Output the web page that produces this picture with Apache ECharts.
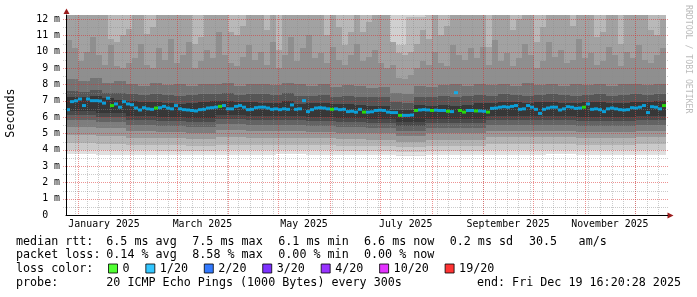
<!DOCTYPE html>
<html><head><meta charset="utf-8">
<script src="https://cdn.jsdelivr.net/npm/echarts@6/dist/echarts.min.js"></script>
<style>html,body{margin:0;padding:0;background:#fff;}#c{width:697px;height:297px;}</style>
</head><body><div id="c"></div>
<script>
// ---------------- data ----------------
// x axis: days since graph start (Dec 24 2024 16:20:28), span 360 days
const spanDays = 360;
const yMaxMs = 12.245;
const monthStartDays = [7.32, 38.32, 66.32, 97.32, 127.32, 158.32, 188.32, 219.32, 250.32, 280.32, 311.32, 341.32];
const monthLabelDays = [22.82, 81.82, 142.82, 203.82, 265.32, 326.32];
const monthLabels = ['January 2025', 'March 2025', 'May 2025', 'July 2025', 'September 2025', 'November 2025'];
const firstMondayDay = 5.32;

// median rtt (ms), 150 bins of 2.4 days
const medianRtt = [
 6.45,6.94,6.99,7.1,6.7,7.1,7.0,7.0,6.98,6.85,
 7.15,6.7,6.8,6.6,6.94,6.8,6.75,6.55,6.43,6.57,
 6.5,6.47,6.55,6.57,6.65,6.55,6.5,6.7,6.5,6.45,
 6.43,6.4,6.37,6.45,6.47,6.55,6.57,6.6,6.65,6.7,
 6.5,6.5,6.65,6.7,6.6,6.45,6.47,6.57,6.6,6.6,
 6.55,6.47,6.5,6.45,6.5,6.47,6.74,6.47,6.5,7.0,
 6.33,6.45,6.55,6.57,6.55,6.5,6.47,6.5,6.45,6.47,
 6.33,6.35,6.3,6.47,6.3,6.3,6.32,6.4,6.42,6.4,
 6.3,6.27,6.27,6.1,6.1,6.1,6.12,6.4,6.43,6.45,
 6.43,6.4,6.42,6.4,6.4,6.35,6.33,7.49,6.4,6.3,
 6.4,6.4,6.37,6.37,6.35,6.3,6.53,6.55,6.6,6.63,
 6.6,6.65,6.7,6.47,6.5,6.7,6.6,6.47,6.22,6.47,
 6.55,6.6,6.6,6.43,6.5,6.63,6.6,6.53,6.55,6.6,
 6.8,6.47,6.5,6.45,6.33,6.5,6.55,6.5,6.45,6.43,
 6.45,6.57,6.55,6.6,6.7,6.27,6.63,6.6,6.5,6.7];
// loss level index per median bin (0 = "0", 1 = "1/20")
const medianLoss = [
 1,1,1,1,1,1,1,1,1,1, 1,0,1,1,1,1,1,1,1,1, 1,1,0,1,1,1,1,1,1,1, 1,1,1,1,1,1,1,1,0,1,
 1,1,1,1,1,1,1,1,1,1, 1,1,1,1,1,1,1,1,1,1, 1,1,1,1,1,1,0,1,1,1, 1,1,1,1,0,1,1,1,1,1,
 1,1,1,0,1,1,1,0,1,1, 1,0,1,1,1,0,1,1,0,0, 1,1,0,1,1,0,1,1,1,1, 1,1,1,1,1,1,1,1,1,1,
 1,1,1,1,1,1,1,1,1,0, 1,1,1,1,1,1,1,1,1,1, 1,1,1,1,1,1,1,1,1,0];
const lossNames = ['0', '1/20', '2/20', '3/20', '4/20', '10/20', '19/20'];
const lossColors = ['#26ff00', '#00b8ff', '#0059ff', '#5e00ff', '#7e00ff', '#dd00ff', '#ff0000'];

// smoke, lower side: 20 bins of 18 days (ms)
const lowEdge0 = [3.72,3.7,3.7,3.68,3.68,3.7,3.7,3.72,3.7,3.68,3.66,3.64,3.68,3.68,3.7,3.7,3.72,3.7,3.7,3.7];
const lowEdge1 = [3.95,3.95,3.95,3.9,3.9,3.95,3.95,3.95,3.95,3.9,3.9,3.85,3.9,3.9,3.95,4.0,4.0,3.95,3.95,4.0];
const lowEdge2 = [4.4,4.35,4.3,4.3,4.25,4.3,4.3,4.3,4.3,4.25,4.2,4.15,4.2,4.2,4.35,4.35,4.35,4.3,4.3,4.35];
const lowEdge3 = [4.9,4.85,4.7,4.7,4.65,4.75,4.7,4.7,4.7,4.65,4.6,4.5,4.6,4.6,4.75,4.75,4.75,4.7,4.7,4.75];
const lowEdge4 = [5.4,5.3,5.15,5.1,5.05,5.2,5.15,5.15,5.1,5.05,5.0,4.85,5.0,5.0,5.15,5.15,5.15,5.1,5.1,5.15];
const lowEdge5 = [5.8,5.7,5.5,5.45,5.4,5.55,5.5,5.5,5.45,5.4,5.35,5.15,5.35,5.35,5.5,5.5,5.5,5.45,5.45,5.5];
const lowEdge6 = [6.1,6.0,5.8,5.75,5.7,5.85,5.8,5.8,5.75,5.7,5.65,5.45,5.65,5.65,5.8,5.8,5.8,5.75,5.75,5.8];
const lowEdge7 = [6.35,6.25,6.05,6.0,5.95,6.1,6.05,6.05,6.0,5.95,5.9,5.7,5.9,5.9,6.05,6.05,6.05,6.0,6.0,6.05];

// smoke, upper side
const topMax = [13.6,14.2,13.1,13.8,14.5,13.3,13.9,14.1,13.4,13.7,14.0,13.2,13.8,13.5,14.3,13.6,12.9,13.1,13.8,14.2,13.5,13.9,13.3,14.0,13.6,13.8,14.1,13.4,13.7,13.9]; // 30 bins
const topLight = [12.9,13.2,12.7,13.0,12.8,13.3,12.9,13.1,12.8,13.0,13.2,12.9,12.7,13.1,13.0,12.8,10.4,12.1,13.0,12.9,13.2,12.8,13.0,13.1,12.9,12.7,13.0,13.2,12.8,13.0]; // 30 bins
const topGrey = [
 12.8,13.1,12.9,13.2,12.7,13.0,12.9,10.8,10.6,11.0,
 11.4,12.9,13.1,11.1,11.5,12.8,13.0,12.9,13.2,12.7,
 13.0,10.5,10.9,12.8,13.1,12.9,13.0,11.2,11.0,11.6,
 12.9,13.2,12.8,11.3,12.9,10.1,13.0,12.8,13.1,12.9,
 13.0,12.7,13.2,11.0,12.9,11.5,10.4,11.2,13.0,11.2,
 11.8,12.9,13.1,12.8,10.6,9.9,9.8,10.0,10.5,11.3,
 10.8,12.9,11.0,11.6,13.0,12.8,13.1,12.9,13.0,12.7,
 10.3,12.9,13.1,12.8,11.3,12.0,13.0,12.9,10.6,11.5,
 13.1,12.8,13.0,12.9,11.6,13.2,12.8,13.0,10.9,11.2,
 12.9,13.1,10.5,12.8,13.0,12.9,13.1,11.3,11.0,12.0]; // 100 bins
const topMid = [
 10.7,10.2,9.4,10.0,10.9,9.8,9.2,10.4,9.1,9.0,
 9.3,9.6,10.5,9.2,9.0,10.2,9.5,10.8,9.3,9.8,
 10.6,9.0,9.4,10.1,9.6,11.2,9.8,9.3,9.1,9.7,
 10.4,9.5,10.0,9.2,10.6,9.0,9.8,10.9,9.4,10.2,
 11.0,9.6,9.9,9.3,10.3,9.5,9.2,9.8,10.5,9.4,
 9.7,10.1,9.3,9.0,9.2,8.4,8.3,8.6,9.0,9.4,
 9.2,10.0,9.3,9.1,10.4,9.8,9.5,10.2,9.6,10.3,
 9.2,10.7,9.4,9.9,9.1,9.6,10.5,9.8,9.0,9.4,
 10.6,9.7,10.1,9.3,9.5,10.8,9.6,9.9,9.2,9.4,
 10.3,9.8,9.1,10.0,9.6,10.4,9.5,9.3,9.8,10.2]; // 100 bins
const topDark = [8.3,8.2,8.4,8.1,8.2,8.0,7.9,8.1,7.95,8.0,7.9,8.05,8.0,8.1,7.9,8.0,8.05,7.95,8.1,8.0,
 7.9,8.0,7.85,7.95,7.9,7.8,7.85,7.5,7.4,7.9,7.85,7.95,8.0,7.9,8.05,7.95,8.0,7.9,8.1,7.95,
 8.0,7.9,8.05,7.95,8.0,7.9,8.0,8.05,7.95,8.0]; // 50 bins
const topDarker = [7.6,7.55,7.65,7.5,7.45,7.4,7.35,7.4,7.35,7.3,7.35,7.4,7.4,7.45,7.35,7.4,7.4,7.35,7.45,7.3,
 7.3,7.35,7.25,7.3,7.25,7.2,7.2,6.9,6.85,7.25,7.2,7.3,7.25,7.3,7.35,7.3,7.4,7.35,7.3,7.35,
 7.4,7.35,7.3,7.35,7.4,7.3,7.35,7.4,7.35,7.4]; // 50 bins
const coreTop = [7.25,7.25,7.3,7.15,7.05,7.0,6.9,6.9,6.85,6.8,6.85,6.9,6.95,6.95,6.9,6.9,6.85,6.85,6.95,6.8,
 6.85,6.85,6.8,6.8,6.75,6.7,6.7,6.45,6.4,6.75,6.7,6.75,6.7,6.75,6.85,6.85,6.9,6.9,6.85,6.9,
 6.9,6.85,6.85,6.9,6.9,6.85,6.85,6.9,6.9,6.95]; // 50 bins

// legend texts
const rttLabel = 'median rtt:';
const rttStats = ['6.5 ms avg', '7.5 ms max', '6.1 ms min', '6.6 ms now', '0.2 ms sd'];
const rttExtra = ['30.5', 'am/s'];
const lossLabel = 'packet loss:';
const lossStats = ['0.14 % avg', '8.58 % max', '0.00 % min', '0.00 % now'];
const lossColorLabel = 'loss color:';
const probeLabel = 'probe:';
const probeText = '20 ICMP Echo Pings (1000 Bytes) every 300s';
const endText = 'end: Fri Dec 19 16:20:28 2025';
const yTitle = 'Seconds';
const watermark = 'RRDTOOL / TOBI OETIKER';

// ---------------- chart ----------------
const MONO = 'DejaVu Sans Mono';
const FS = 11.7;
const GRID = {left: 66, right: 31, top: 15, bottom: 82};
const SMOKE_BASE = 5.0;

function bandRender(color) {
  return function (params, api) {
    const x0 = api.value(0), x1 = api.value(1), lo = api.value(2), hi = api.value(3);
    const a = api.coord([x0, hi]), b = api.coord([x1, lo]);
    const cs = params.coordSys;
    const left = Math.round(a[0]), right = Math.round(b[0]);
    const top = Math.round(Math.max(a[1], cs.y));
    const bot = Math.round(Math.min(b[1], cs.y + cs.height));
    if (bot <= top || right <= left) return null;
    return {type: 'rect', shape: {x: left, y: top, width: right - left, height: bot - top}, style: {fill: color}};
  };
}
function band(loArr, hiArr, color, z) {
  const binDays = spanDays / hiArr.length;
  const data = hiArr.map((h, i) => [i * binDays, (i + 1) * binDays, Array.isArray(loArr) ? loArr[i] : loArr, h]);
  return {type: 'custom', coordinateSystem: 'cartesian2d', renderItem: bandRender(color), data,
    encode: {x: [0, 1], y: [2, 3]}, silent: true, z, animation: false};
}
function hLines(values, color, z) {
  return {type: 'custom', coordinateSystem: 'cartesian2d', silent: true, z, animation: false,
    data: values.map(v => [0, v]), encode: {x: 0, y: 1},
    renderItem: (params, api) => {
      const cs = params.coordSys; const p = api.coord([0, api.value(1)]);
      const y = Math.round(p[1]) + 0.5;
      return {type: 'line', shape: {x1: cs.x - 3, y1: y, x2: cs.x + cs.width + 3, y2: y},
        style: {stroke: color, lineWidth: 1, lineDash: [1, 1]}};
    }};
}
function vLines(values, color, z) {
  return {type: 'custom', coordinateSystem: 'cartesian2d', silent: true, z, animation: false,
    data: values.map(v => [v, 0]), encode: {x: 0, y: 1},
    renderItem: (params, api) => {
      const cs = params.coordSys; const p = api.coord([api.value(0), 0]);
      const x = Math.round(p[0]) + 0.5;
      return {type: 'line', shape: {x1: x, y1: cs.y, x2: x, y2: cs.y + cs.height + 2},
        style: {stroke: color, lineWidth: 1, lineDash: [1, 1]}};
    }};
}

const series = [];
// upper side, outer to inner (drawn from a base hidden by the lower bands)
series.push(band(SMOKE_BASE, topMax, '#d0d0d0', 1));
series.push(band(SMOKE_BASE, topLight, '#b9b9b9', 1));
series.push(band(SMOKE_BASE, topGrey, '#a2a2a2', 1));
series.push(band(SMOKE_BASE, topMid, '#8f8f8f', 1));
series.push(band(SMOKE_BASE, topDark, '#747474', 1));
series.push(band(SMOKE_BASE, topDarker, '#565656', 1));
series.push(band(SMOKE_BASE, coreTop, '#373737', 1));
// lower side
const lowEdges = [lowEdge0, lowEdge1, lowEdge2, lowEdge3, lowEdge4, lowEdge5, lowEdge6, lowEdge7];
const lowColors = ['#dfdfdf', '#cacaca', '#b3b3b3', '#999999', '#7d7d7d', '#636363', '#4a4a4a'];
for (let k = 0; k < 7; k++) series.push(band(lowEdges[k], lowEdges[k + 1], lowColors[k], 1.5));

// grid lines
const halfMs = [], wholeMs = [];
for (let v = 0.5; v < yMaxMs; v += 1) halfMs.push(v);
for (let v = 1; v < yMaxMs; v += 1) wholeMs.push(v);
const mondays = [];
for (let d = firstMondayDay; d < spanDays; d += 7) mondays.push(d);
series.push(hLines(halfMs, 'rgba(140,140,140,0.45)', 3));
series.push(vLines(mondays, 'rgba(140,140,140,0.45)', 3));
series.push(hLines(wholeMs, 'rgba(220,40,40,0.5)', 3.5));
series.push(vLines(monthStartDays, 'rgba(220,40,40,0.5)', 3.5));

// median, one series per loss colour
const binDays = spanDays / medianRtt.length;
lossNames.forEach((name, li) => {
  const data = [];
  medianRtt.forEach((v, i) => { if (medianLoss[i] === li) data.push([(i + 0.5) * binDays, v]); });
  series.push({type: 'scatter', name, data, symbol: 'rect', symbolSize: [4, 3],
    itemStyle: {color: lossColors[li]}, z: 5, silent: true, animation: false});
});

const txt = (text, x, y, extra) => Object.assign({type: 'text', x, y, z: 20,
  style: Object.assign({text, fill: '#000', fontFamily: MONO, fontSize: FS, textVerticalAlign: 'middle'}, extra || {})});
const colX = [106.3, 192.3, 278.3, 364, 449.7];
const graphic = [];
graphic.push(txt(rttLabel, 16, 241.5));
rttStats.forEach((s, i) => graphic.push(txt(s, colX[i], 241.5)));
graphic.push(txt(rttExtra[0], 529, 241.5));
graphic.push(txt(rttExtra[1], 578.6, 241.5));
graphic.push(txt(lossLabel, 16, 254.8));
lossStats.forEach((s, i) => graphic.push(txt(s, colX[i], 254.8)));
graphic.push(txt(lossColorLabel, 16, 269.2));
graphic.push(txt(probeLabel, 16, 282.5));
graphic.push(txt(probeText, colX[0], 282.5));
graphic.push(txt(endText, 681, 282.5, {textAlign: 'right'}));
graphic.push(Object.assign(txt(yTitle, 11, 113, {textAlign: 'center'}), {rotation: Math.PI / 2}));
graphic.push(Object.assign(txt(watermark, 688, 5, {textAlign: 'left', fontSize: 8.2, fill: '#bbbbbb'}), {rotation: -Math.PI / 2}));
// axis arrows
graphic.push({type: 'polygon', z: 20, shape: {points: [[66.5, 8.5], [63.5, 14], [69.5, 14]]}, style: {fill: '#9b1c1c'}});
graphic.push({type: 'polygon', z: 20, shape: {points: [[673.5, 215.5], [667.5, 212.5], [667.5, 218.5]]}, style: {fill: '#9b1c1c'}});
graphic.push({type: 'line', z: 20, shape: {x1: 666, y1: 215.5, x2: 668, y2: 215.5}, style: {stroke: '#000', lineWidth: 1}});

const chart = echarts.init(document.getElementById('c'), null, {renderer: 'canvas'});
chart.setOption({
  animation: false,
  backgroundColor: '#ffffff',
  grid: GRID,
  xAxis: {type: 'value', min: 0, max: spanDays, z: 10,
    axisLine: {show: true, lineStyle: {color: '#000', width: 1}},
    axisTick: {show: false}, splitLine: {show: false},
    axisLabel: {customValues: monthLabelDays, margin: 4, color: '#000', fontFamily: MONO, fontSize: 9.9,
      formatter: v => { const i = monthLabelDays.findIndex(d => Math.abs(d - v) < 0.01); return i >= 0 ? monthLabels[i] : ''; }}},
  yAxis: {type: 'value', min: 0, max: yMaxMs, interval: 1, z: 10,
    axisLine: {show: true, lineStyle: {color: '#000', width: 1}},
    axisTick: {show: false}, splitLine: {show: false},
    axisLabel: {margin: 6, color: '#000', fontFamily: MONO, fontSize: 9.9,
      formatter: v => { if (Math.abs(v - Math.round(v)) > 1e-6) return ''; return v === 0 ? '0  ' : Math.round(v) + ' m'; }}},
  legend: {data: lossNames, left: 108, top: 262.5, padding: 0, itemGap: 15.8, itemWidth: 9, itemHeight: 9,
    icon: 'rect', selectedMode: false,
    itemStyle: {borderColor: '#000', borderWidth: 1},
    textStyle: {fontFamily: MONO, fontSize: FS, color: '#000', padding: 0}},
  series,
  graphic
});
</script></body></html>
